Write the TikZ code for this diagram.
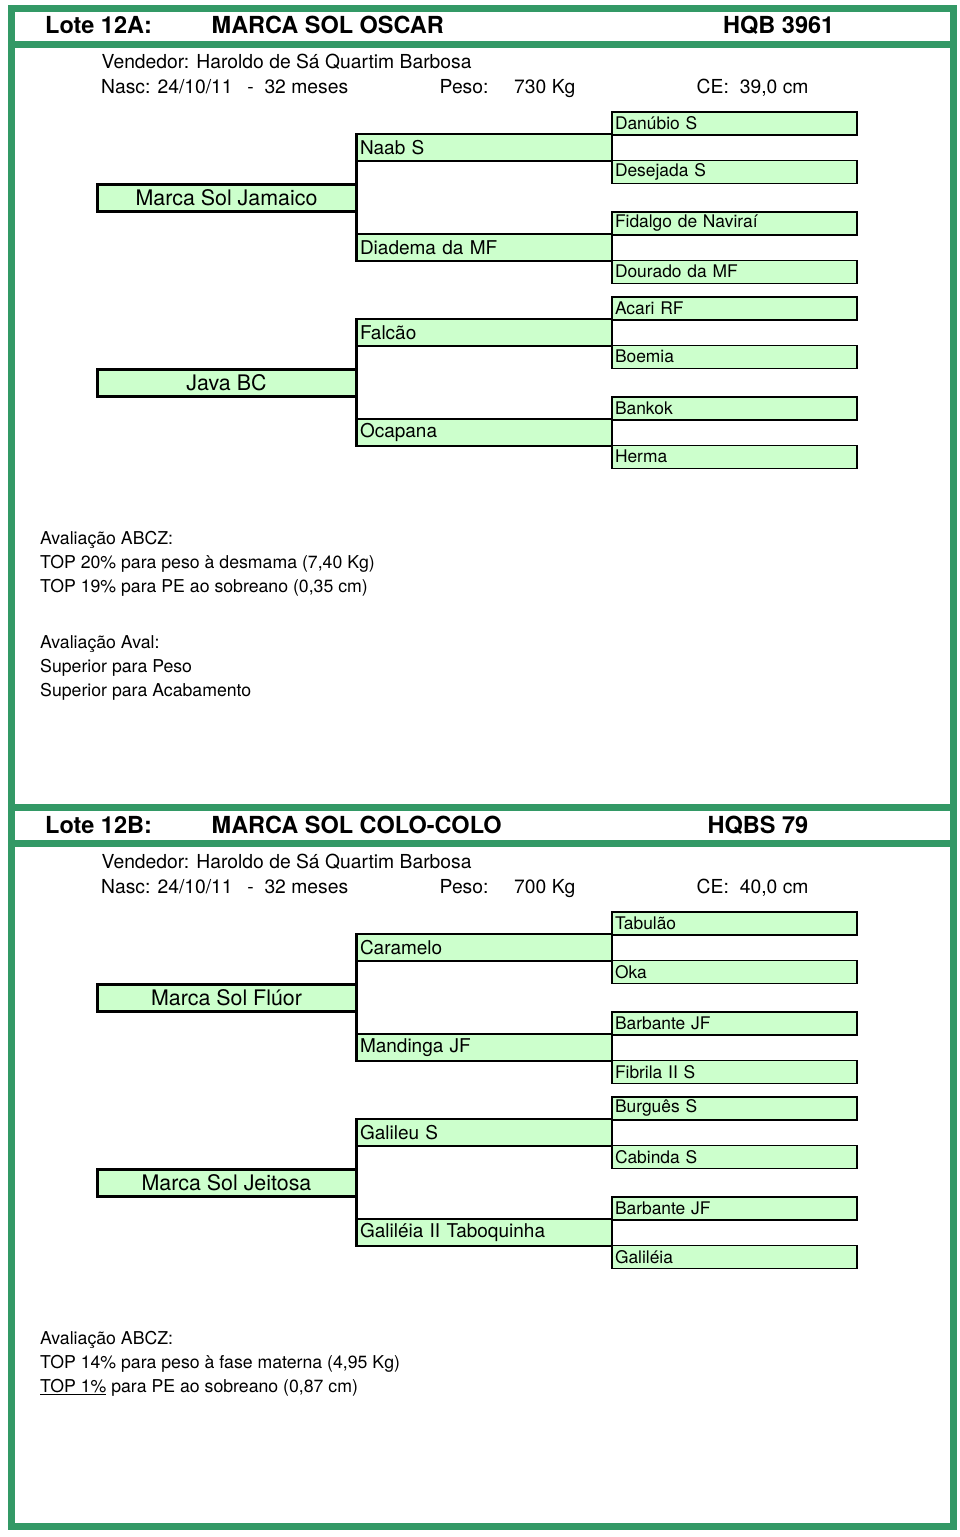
\documentclass[tikz,border=0pt]{standalone}
\usepackage{fontspec}
\setmainfont{TeX Gyre Heros}
\usepackage{tikz}
\definecolor{framegreen}{RGB}{51,153,102}
\definecolor{boxgreen}{RGB}{204,255,204}

\begin{document}
\begin{tikzpicture}[x=1pt, y=-1pt, grow'=right,
titlefont/.style={font=\fontsize{23.5}{27}\selectfont\bfseries},
infofont/.style={font=\fontsize{19.3}{23}\selectfont},
notefont/.style={font=\fontsize{17.7}{21}\selectfont},
info/.style={anchor=base west, inner sep=0pt},
parentbox/.style={draw, line width=3pt, fill=boxgreen, outer sep=0pt, inner sep=0pt, minimum width=259pt, minimum height=27pt, font=\fontsize{21.4}{24}\selectfont},
grandbox/.style={draw, line width=1.2pt, fill=boxgreen, outer sep=0pt, inner xsep=4pt, inner ysep=0pt, text width=248pt, minimum height=27pt, align=left, font=\fontsize{19}{22}\selectfont},
greatbox/.style={draw, line width=1.5pt, fill=boxgreen, outer sep=0pt, inner xsep=3pt, inner ysep=0pt, text width=239pt, minimum height=23pt, align=left, font=\fontsize{17.4}{20}\selectfont},
fork/.style={edge from parent path={(\tikzparentnode.east) -- (\tikzparentnode.east |- \tikzchildnode.north) (\tikzparentnode.east) -- (\tikzparentnode.east |- \tikzchildnode.south)}},
level 1/.style={level distance=126.5pt, sibling distance=185pt, edge from parent/.style={draw=none}},
level 2/.style={level distance=257.5pt, sibling distance=100pt, fork, edge from parent/.style={draw, line width=3pt}},
level 3/.style={level distance=250.5pt, sibling distance=48.5pt, fork, edge from parent/.style={draw, line width=1.5pt}}]
\useasboundingbox (0,0) rectangle (960,1537);
\draw[framegreen, line width=7pt] (11,8) rectangle (953,1526);
\draw[framegreen, line width=7pt] (11,44) -- (953,44) (11,807) -- (953,807) (11,843) -- (953,843);

\node[info, titlefont] (loteA) at (45,33) {Lote 12A:};
\node[info, titlefont] (nomeA) at (211.5,33) {MARCA SOL OSCAR};
\node[info, titlefont] (rgdA) at (723,33) {HQB 3961};
\node[info, infofont] (vendA) at (101.5,68) {Vendedor: Haroldo de Sá Quartim Barbosa};
\node[info, infofont] (nascA) at (101,93) {Nasc: 24/10/11\hspace{14.7pt}-\hspace{10.7pt}32 meses};
\node[info, infofont] (pesoA) at (439.5,93) {Peso:};
\node[info, infofont] (kgA) at (514,93) {730 Kg};
\node[info, infofont] (ceA) at (696.5,93) {CE:\hspace{11pt}39,0 cm};

\node[coordinate] (lotA) at (100,290) {} child {node[parentbox] (paiA) {Marca Sol Jamaico} child {node[grandbox] (avoA) {Naab S} child {node[greatbox] (bisA1) {Danúbio S}} child {node[greatbox] (bisA2) {Desejada S}}}
child {node[grandbox] (avaA) {Diadema da MF} child {node[greatbox] (bisA3) {Fidalgo de Naviraí}} child {node[greatbox] (bisA4) {Dourado da MF}}}}
child {node[parentbox] (maeA) {Java BC} child {node[grandbox] (avoA2) {Falcão} child {node[greatbox] (bisA5) {Acari RF}} child {node[greatbox] (bisA6) {Boemia}}}
child {node[grandbox] (avaA2) {Ocapana} child {node[greatbox] (bisA7) {Bankok}} child {node[greatbox] (bisA8) {Herma}}}};

\node[info, notefont] (abczA) at (40,544) {Avaliação ABCZ:};
\node[info, notefont] (abczA1) at (40,568) {TOP 20\% para peso à desmama (7,40 Kg)};
\node[info, notefont] (abczA2) at (40,592) {TOP 19\% para PE ao sobreano (0,35 cm)};
\node[info, notefont] (avalA) at (40,648) {Avaliação Aval:};
\node[info, notefont] (avalA1) at (40,672) {Superior para Peso};
\node[info, notefont] (avalA2) at (40,696) {Superior para Acabamento};

\node[info, titlefont] (loteB) at (45,833) {Lote 12B:};
\node[info, titlefont] (nomeB) at (211.5,833) {MARCA SOL COLO-COLO};
\node[info, titlefont] (rgdB) at (707.5,833) {HQBS 79};
\node[info, infofont] (vendB) at (101.5,868) {Vendedor: Haroldo de Sá Quartim Barbosa};
\node[info, infofont] (nascB) at (101,893) {Nasc: 24/10/11\hspace{14.7pt}-\hspace{10.7pt}32 meses};
\node[info, infofont] (pesoB) at (439.5,893) {Peso:};
\node[info, infofont] (kgB) at (514,893) {700 Kg};
\node[info, infofont] (ceB) at (696.5,893) {CE:\hspace{11pt}40,0 cm};

\node[coordinate] (lotB) at (100,1090) {} child {node[parentbox] (paiB) {Marca Sol Flúor} child {node[grandbox] (avoB) {Caramelo} child {node[greatbox] (bisB1) {Tabulão}} child {node[greatbox] (bisB2) {Oka}}}
child {node[grandbox] (avaB) {Mandinga JF} child {node[greatbox] (bisB3) {Barbante JF}} child {node[greatbox] (bisB4) {Fibrila II S}}}}
child {node[parentbox] (maeB) {Marca Sol Jeitosa} child {node[grandbox] (avoB2) {Galileu S} child {node[greatbox] (bisB5) {Burguês S}} child {node[greatbox] (bisB6) {Cabinda S}}}
child {node[grandbox] (avaB2) {Galiléia II Taboquinha} child {node[greatbox] (bisB7) {Barbante JF}} child {node[greatbox] (bisB8) {Galiléia}}}};

\node[info, notefont] (abczB) at (40,1344) {Avaliação ABCZ:};
\node[info, notefont] (abczB1) at (40,1368) {TOP 14\% para peso à fase materna (4,95 Kg)};
\node[info, notefont] (abczB2) at (40,1392) {\underline{TOP 1\%} para PE ao sobreano (0,87 cm)};
\end{tikzpicture}
\end{document}
